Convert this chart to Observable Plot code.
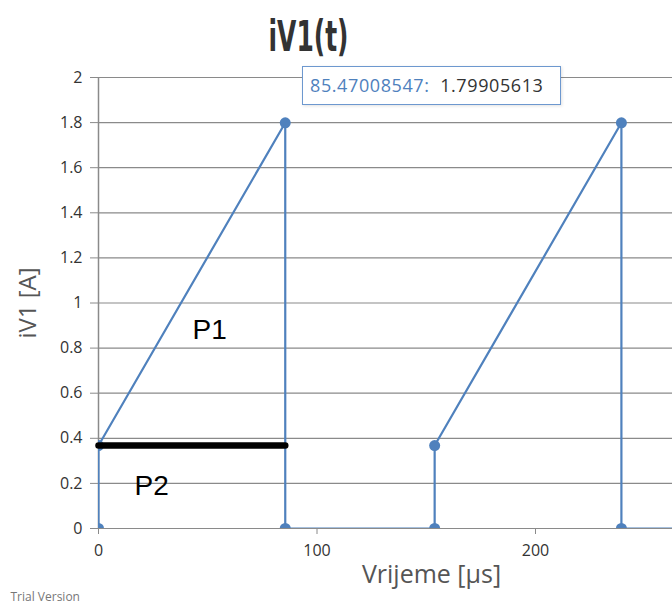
<!DOCTYPE html>
<html>
<head>
<meta charset="utf-8">
<script src="https://cdn.jsdelivr.net/npm/d3@7"></script>
<script src="https://cdn.jsdelivr.net/npm/@observablehq/plot@0.6"></script>
<style>
  html, body { margin: 0; padding: 0; background: #fff; }
  #wrap { position: relative; width: 672px; height: 605px; overflow: hidden; }
  #tip {
    position: absolute; left: 302px; top: 66px; width: 259px; height: 39px;
    border: 1.5px solid #6d98cf; background: #fff; box-sizing: border-box;
    font-family: "Open Sans", "Noto Sans", sans-serif; font-size: 18px;
    line-height: 36px; padding-left: 7px; white-space: nowrap; letter-spacing: 0.6px;
    box-shadow: 1px 1px 3px rgba(0,0,0,0.12);
  }
  #tip .k { color: #4f81bd; }
  #tip .v { color: #333; }
</style>
</head>
<body>
<div id="wrap"></div>
<script>
// ---- data ----
const tValues = [0, 0, 85.47008547, 85.47008547, 153.84615385, 153.84615385, 239.31623932, 239.31623932, 307.69230769];
const iValues = [0, 0.368, 1.79905613, 0, 0, 0.368, 1.79905613, 0, 0];
const markerIdx = [0, 1, 2, 3, 4, 5, 6, 7];
const xTicks = [0, 100, 200];
const yTicks = [0, 0.2, 0.4, 0.6, 0.8, 1, 1.2, 1.4, 1.6, 1.8, 2];
const barStart = 0, barEnd = 85.47008547, barLevel = 0.368;
const labels = [
  {t: 43, i: 0.88, text: "P1"},
  {t: 16.5, i: 0.19, text: "P2"}
];
const titleText = "iV1(t)";
const xLabel = "Vrijeme [µs]";
const yLabel = "iV1 [A]";
const tipKey = "85.47008547:";
const tipVal = "1.79905613";

const pts = tValues.map((t, k) => ({t, i: iValues[k]}));
const marks = markerIdx.map(k => pts[k]);

const font = "'Open Sans', 'Noto Sans', sans-serif";
const chart = Plot.plot({
  width: 672,
  height: 605,
  marginLeft: 98,
  marginRight: 0,
  marginTop: 77,
  marginBottom: 77,
  style: {fontFamily: font, fontSize: "16px", color: "#333", background: "#fff", overflow: "visible"},
  x: {domain: [0, 262.7], ticks: xTicks, tickSize: 6, tickPadding: 10, label: null, tickFormat: d => String(d)},
  y: {domain: [0, 2], ticks: yTicks, tickSize: 8, tickPadding: 8, label: null, tickFormat: d => String(+d.toFixed(1))},
  marks: [
    Plot.ruleY(yTicks, {stroke: "#8a8a8a", strokeWidth: 1.2}),
    Plot.ruleX([0], {stroke: "#8a8a8a", strokeWidth: 1.5}),
    Plot.axisY({ticks: yTicks, tickSize: 8, tickPadding: 8, stroke: "#8a8a8a", fill: "#333", fontSize: 16, tickFormat: d => String(+d.toFixed(1)), label: null}),
    Plot.axisX({ticks: xTicks, tickSize: 6, tickPadding: 10, stroke: "#8a8a8a", fill: "#333", fontSize: 16, label: null}),
    Plot.line(pts, {x: "t", y: "i", stroke: "#4f81bd", strokeWidth: 2.2, clip: true}),
    Plot.dot(marks, {x: "t", y: "i", r: 5.5, fill: "#4f81bd", clip: true}),
    Plot.link([{x1: barStart, x2: barEnd, y: barLevel}], {x1: "x1", x2: "x2", y1: "y", y2: "y", stroke: "#000", strokeWidth: 6.5, strokeLinecap: "round"}),
    Plot.text(labels, {x: "t", y: "i", text: "text", textAnchor: "start", fontSize: 28, fill: "#000", fontFamily: "'Liberation Sans', sans-serif"}),
    Plot.text([titleText], {frameAnchor: "top-left", dx: 210, dy: -56, text: d => d, textAnchor: "middle", fontSize: 42, fontWeight: "bold", fill: "#333", fontFamily: "'DejaVu Sans', sans-serif"}),
    Plot.text([xLabel], {frameAnchor: "bottom-left", dx: 333, dy: 54, text: d => d, textAnchor: "middle", fontSize: 25, fill: "#555"}),
    Plot.text([yLabel], {frameAnchor: "left", dx: -70, dy: 0, text: d => d, rotate: -90, textAnchor: "middle", fontSize: 24, fill: "#555"}),
    Plot.text(["Trial Version"], {frameAnchor: "bottom-left", dx: -88, dy: 72, text: d => d, textAnchor: "start", fontSize: 12, fill: "#777"})
  ]
});
// condense the heavy title like the reference
d3.select(chart).selectAll("text").filter(function() { return this.textContent === titleText; })
  .attr("textLength", 80).attr("lengthAdjust", "spacingAndGlyphs");
const wrap = document.getElementById("wrap");
wrap.appendChild(chart);
const tip = document.createElement("div");
tip.id = "tip";
tip.innerHTML = `<span class="k"></span>&nbsp;&nbsp;<span class="v"></span>`;
tip.querySelector(".k").textContent = tipKey;
tip.querySelector(".v").textContent = tipVal;
wrap.appendChild(tip);
</script>
</body>
</html>
